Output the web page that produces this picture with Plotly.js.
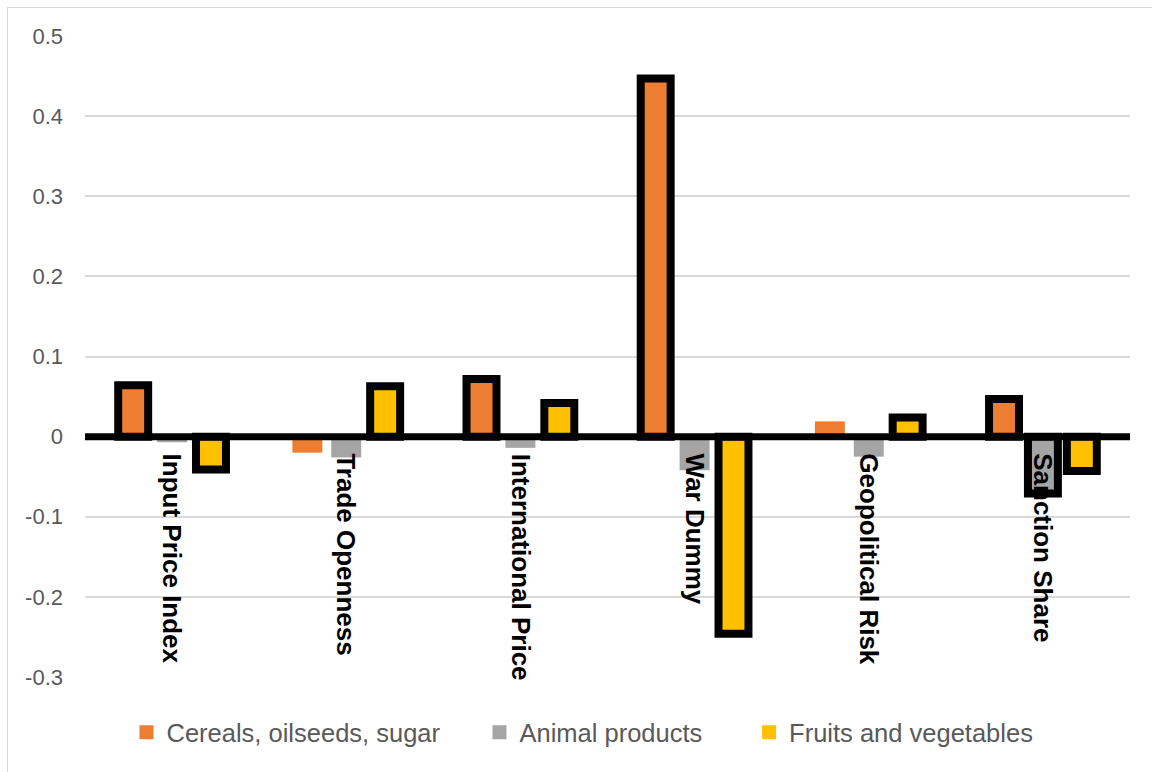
<!DOCTYPE html>
<html>
<head>
<meta charset="utf-8">
<script src="https://cdn.plot.ly/plotly-3.0.1.min.js"></script>
<style>
  html, body { margin: 0; padding: 0; overflow: hidden; background: #fff; }
  #chart { width: 1152px; height: 772px; }
  #frame { position: absolute; left: 7px; top: 7px; width: 1200px; height: 800px;
           border-left: 1.5px solid #D9D9D9; border-top: 1.5px solid #D9D9D9; pointer-events: none; }
</style>
</head>
<body>
<div id="chart"></div>
<div id="frame"></div>
<script>
// ---- data ----
const categories = ["Input Price Index", "Trade Openness", "International Price", "War Dummy", "Geopolitical Risk", "Sanction Share"];
const seriesNames = ["Cereals, oilseeds, sugar", "Animal products", "Fruits and vegetables"];
const cereals = [0.064, -0.020, 0.072, 0.447, 0.019, 0.047];
const animal  = [-0.007, -0.026, -0.014, -0.042, -0.025, -0.071];
const fruits  = [-0.041, 0.063, 0.042, -0.246, 0.024, -0.043];
// significance flags (bars drawn with a heavy black outline)
const cerealsSig = [1, 0, 1, 1, 0, 1];
const animalSig  = [0, 0, 0, 0, 0, 1];
const fruitsSig  = [1, 1, 1, 1, 1, 1];
const yTicks = [-0.3, -0.2, -0.1, 0, 0.1, 0.2, 0.3, 0.4, 0.5];
const yTickText = ["-0.3", "-0.2", "-0.1", "0", "0.1", "0.2", "0.3", "0.4", "0.5"];

const colors = ["#ED7D31", "#A5A5A5", "#FFC000"];
const BORDER = 8;
const legendIds = ["legend", "legend2", "legend3"];
const legendX = [0.0397, 0.3775, 0.6355];

function mk(i, vals, sig) {
  return {
    type: "bar", name: seriesNames[i], x: categories, y: vals, legend: legendIds[i],
    marker: { color: colors[i], line: { color: "#000", width: sig.map(s => s ? BORDER : 0) } },
    hoverinfo: "skip"
  };
}
const traces = [
  mk(0, cereals, cerealsSig),
  mk(1, animal, animalSig),
  mk(2, fruits, fruitsSig)
];

const annotations = categories.map(c => ({
  x: c, y: 0, xref: "x", yref: "y", text: c, showarrow: false,
  textangle: 90, xanchor: "center", yanchor: "top", yshift: -15,
  font: { family: "Liberation Sans, Arial, sans-serif", size: 26, color: "#000", weight: "bold" }
}));

function legendCfg(x) {
  return {
    orientation: "h", x: x, xanchor: "left", y: -0.087, yanchor: "middle",
    bgcolor: "rgba(0,0,0,0)",
    font: { family: "Liberation Sans, Arial, sans-serif", size: 25.5, color: "#595959" },
    itemclick: false, itemdoubleclick: false
  };
}

const layout = {
  width: 1152, height: 772,
  margin: { l: 85, r: 22, t: 36, b: 95 },
  paper_bgcolor: "#fff", plot_bgcolor: "#fff",
  barmode: "group", bargap: 0.33, bargroupgap: 0.23,
  showlegend: true,
  legend: legendCfg(legendX[0]),
  legend2: legendCfg(legendX[1]),
  legend3: legendCfg(legendX[2]),
  xaxis: { showticklabels: false, ticks: "", showgrid: false, zeroline: false, showline: false },
  yaxis: {
    range: [-0.3, 0.5], tickvals: yTicks, ticktext: yTickText,
    showgrid: true, gridcolor: "#D9D9D9", gridwidth: 2,
    zeroline: false, showline: false, ticks: "",
    ticklabelstandoff: 21,
    tickfont: { family: "Liberation Sans, Arial, sans-serif", size: 22, color: "#595959" }
  },
  shapes: [{
    type: "line", xref: "paper", x0: 0, x1: 1, yref: "y", y0: 0, y1: 0,
    line: { color: "#000", width: 7 }, layer: "above"
  }],
  annotations: annotations,
  hovermode: false
};

Plotly.newPlot("chart", traces, layout, { displayModeBar: false, staticPlot: true }).then(() => {
  document.querySelectorAll(".legendpoints path").forEach(p => {
    p.style.strokeWidth = "0px";
    p.setAttribute("d", "M7,7H-7V-7H7Z");
  });
});
</script>
</body>
</html>
